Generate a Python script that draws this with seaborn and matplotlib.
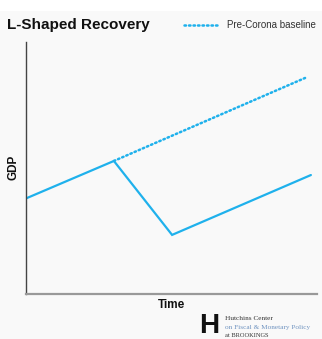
import matplotlib
matplotlib.use("Agg")
import matplotlib.pyplot as plt
from matplotlib.lines import Line2D
from matplotlib.patches import Rectangle
import seaborn as sns
import pandas as pd

# Data (abstract units)
actual_time = [0.0, 3.02, 5.02, 9.79]
actual_gdp = [3.78, 5.27, 2.33, 4.71]
baseline_time = [3.02, 9.59]
baseline_gdp = [5.27, 8.57]

title = "L-Shaped Recovery"
legend_label = "Pre-Corona baseline"
xlabel = "Time"
ylabel = "GDP"

BLUE = "#1fb1ec"
BG = "#f9f9f9"

sns.set_theme(style="white")
plt.rcParams["font.family"] = ["Liberation Sans", "DejaVu Sans"]

fig = plt.figure(figsize=(3.22, 3.39), dpi=100, facecolor=BG)
fig.patches.append(Rectangle((0, 1 - 11 / 339), 1, 11 / 339, transform=fig.transFigure,
                             facecolor="white", edgecolor="none", zorder=0))
ax = fig.add_axes([26 / 322, 1 - 293.5 / 339, 291 / 322, 251.5 / 339])
ax.set_facecolor(BG)

df_a = pd.DataFrame({"t": actual_time, "g": actual_gdp})
df_b = pd.DataFrame({"t": baseline_time, "g": baseline_gdp})
sns.lineplot(data=df_a, x="t", y="g", sort=False, color=BLUE, linewidth=1.6, ax=ax,
             solid_joinstyle="miter")
sns.lineplot(data=df_b, x="t", y="g", sort=False, color=BLUE, linewidth=1.8, ax=ax,
             linestyle=(0, (0.6, 1.2)), dash_capstyle="round")

ax.set_xlim(0, 10)
ax.set_ylim(0, 10)
ax.set_xticks([])
ax.set_yticks([])
for s in ["top", "right"]:
    ax.spines[s].set_visible(False)
ax.spines["left"].set_color("#444444")
ax.spines["left"].set_linewidth(1.0)
ax.spines["bottom"].set_color("#999999")
ax.spines["bottom"].set_linewidth(1.6)

ax.set_xlabel(xlabel, fontsize=8.5, fontweight="bold", color="#111111", labelpad=4)
ax.set_ylabel(ylabel, fontsize=8.5, fontweight="bold", color="#111111", labelpad=5)

fig.text(7 / 322, 1 - 25 / 339, title, fontsize=11, fontweight="bold",
         color="#111111", va="center", ha="left")

handle = Line2D([], [], color=BLUE, linewidth=1.8, linestyle=(0, (0.6, 1.2)),
                dash_capstyle="round")
leg = fig.legend(handles=[handle], labels=[legend_label], loc="center left",
                 bbox_to_anchor=(184 / 322, 1 - 25 / 339), frameon=False,
                 fontsize=7.0, handlelength=3.5, handletextpad=0.9,
                 borderaxespad=0, borderpad=0)
for t in leg.get_texts():
    t.set_color("#333333")

# Logo
fig.text(209 / 322, 1 - 326 / 339, "H", fontsize=20, fontweight="bold",
         color="#111111", ha="center", va="center")
fig.text(225 / 322, 1 - 319 / 339, "Hutchins Center", fontsize=5.2,
         family="Liberation Serif", color="#333333", ha="left", va="center")
fig.text(225 / 322, 1 - 327.5 / 339, "on Fiscal & Monetary Policy", fontsize=5.2,
         family="Liberation Serif", color="#6f93c0", ha="left", va="center")
fig.text(225 / 322, 1 - 335.5 / 339, "at BROOKINGS", fontsize=4.6,
         family="Liberation Serif", color="#333333", ha="left", va="center")

fig.savefig("out.png", dpi=100, facecolor=BG)
